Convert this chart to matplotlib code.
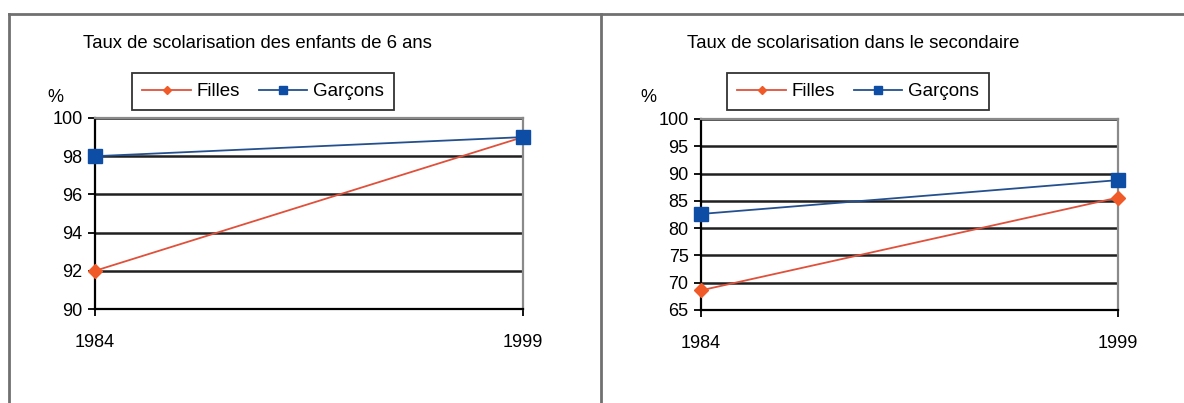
import matplotlib.pyplot as plt
from matplotlib.lines import Line2D

plt.rcParams['font.family'] = ['Liberation Sans', 'DejaVu Sans']

# données
annees = [1984, 1999]
filles_6ans = [92, 99]
garcons_6ans = [98, 99]
filles_sec = [68.6, 85.6]
garcons_sec = [82.6, 88.8]

titres = ["Taux de scolarisation des enfants de 6 ans",
          "Taux de scolarisation dans le secondaire"]
series = [(filles_6ans, garcons_6ans), (filles_sec, garcons_sec)]
limites_y = [(90, 100), (65, 100)]
pas_y = [2, 5]

col_f_line = '#E0503A'
col_f_mark = '#F05A28'
col_g_line = '#24508F'
col_g_mark = '#0E4DA6'

W, H = 1184, 403
fig = plt.figure(figsize=(W / 100, H / 100), dpi=100)

# cadre extérieur
def px_line(x0, y0, x1, y1):
    fig.add_artist(Line2D([x0 / W, x1 / W], [1 - y0 / H, 1 - y1 / H],
                          color='#707070', lw=2, transform=fig.transFigure))

px_line(9, 14, W, 14)
px_line(9, 14, 9, H)
px_line(601, 14, 601, H)

# positions en pixels: gauche, droite, haut, bas
zones = [(95, 523, 118, 309), (701, 1118, 119, 310)]
centres_titre = [257, 853]
centres_leg = [263, 858]
pos_pct = [55, 648]

for i in range(2):
    x0, x1, y0, y1 = zones[i]
    ax = fig.add_axes([x0 / W, 1 - y1 / H, (x1 - x0) / W, (y1 - y0) / H])
    filles, garcons = series[i]
    ymin, ymax = limites_y[i]

    ax.set_xlim(annees[0], annees[1])
    ax.set_ylim(ymin, ymax)
    ax.set_yticks(range(ymin, ymax + 1, pas_y[i]))
    ax.set_xticks(annees)
    ax.grid(axis='y', color='#202020', lw=1.8)
    ax.set_axisbelow(True)

    ax.plot(annees, filles, color=col_f_line, lw=1.3, marker='D', ms=7,
            mfc=col_f_mark, mec=col_f_mark, clip_on=False, zorder=3)
    ax.plot(annees, garcons, color=col_g_line, lw=1.3, marker='s', ms=10.5,
            mfc=col_g_mark, mec=col_g_mark, clip_on=False, zorder=4)

    for s in ['left', 'bottom']:
        ax.spines[s].set_color('black')
        ax.spines[s].set_linewidth(1.6)
    for s in ['top', 'right']:
        ax.spines[s].set_color('#8a8a8a')
        ax.spines[s].set_linewidth(1.6)

    ax.tick_params(axis='y', length=5, width=1.3, pad=4, labelsize=13)
    ax.tick_params(axis='x', length=5, width=1.3, pad=13, labelsize=13)

    fig.text(centres_titre[i] / W, 1 - 43 / H, titres[i], ha='center',
             va='center', fontsize=13.3)
    fig.text(pos_pct[i] / W, 1 - 97 / H, '%', ha='center', va='center',
             fontsize=13)

    handles = [Line2D([], [], color=col_f_line, lw=1.3, marker='D', ms=4,
                      mfc=col_f_mark, mec=col_f_mark),
               Line2D([], [], color=col_g_line, lw=1.3, marker='s', ms=6,
                      mfc=col_g_mark, mec=col_g_mark)]
    leg = fig.legend(handles, ['Filles', 'Garçons'], ncol=2, loc='center',
                     bbox_to_anchor=(centres_leg[i] / W, 1 - 91.5 / H),
                     bbox_transform=fig.transFigure, fontsize=13.5,
                     frameon=True, fancybox=False, edgecolor='black',
                     handlelength=2.6, handletextpad=0.3, columnspacing=1.0,
                     borderpad=0.55, borderaxespad=0)
    leg.get_frame().set_linewidth(1.3)

fig.savefig('out.png', dpi=100)
